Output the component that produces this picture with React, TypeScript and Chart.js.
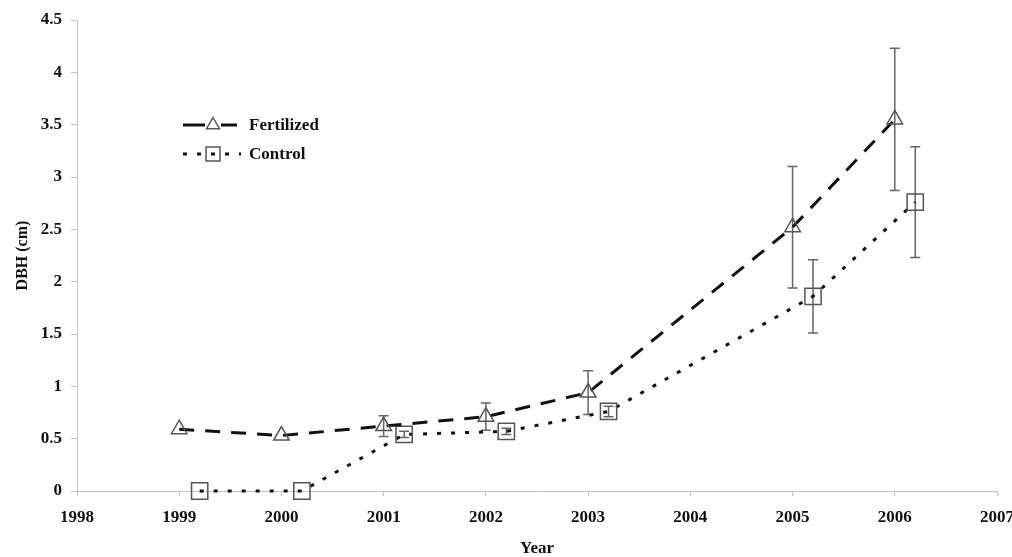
import React, { useEffect, useRef } from "react";
import { Chart, registerables } from "chart.js";

Chart.register(...registerables);

// Measurement years
const fertYears = [1999, 2000, 2001, 2002, 2003, 2005, 2006];
const ctrlYears = [1999.2, 2000.2, 2001.2, 2002.2, 2003.2, 2005.2, 2006.2];

// Mean DBH (cm)
const fertDBH = [0.59, 0.53, 0.62, 0.71, 0.94, 2.52, 3.55];
const ctrlDBH = [0.0, 0.0, 0.54, 0.57, 0.76, 1.86, 2.76];

// Standard error (cm); zero means no bar drawn
const fertErr = [0, 0, 0.1, 0.13, 0.21, 0.58, 0.68];
const ctrlErr = [0, 0, 0.03, 0.03, 0.05, 0.35, 0.53];

const seriesNames = ["Fertilized", "Control"];
const yTicks = [0, 0.5, 1, 1.5, 2, 2.5, 3, 3.5, 4, 4.5];

const SERIF = "'Liberation Serif', 'Times New Roman', serif";

const errorBars = {
  id: "errorBars",
  beforeDatasetsDraw(chart: any) {
    const { ctx, scales } = chart;
    const sets = [
      { xs: fertYears, ys: fertDBH, es: fertErr },
      { xs: ctrlYears, ys: ctrlDBH, es: ctrlErr },
    ];
    ctx.save();
    ctx.strokeStyle = "#666";
    ctx.lineWidth = 1.5;
    for (const s of sets) {
      s.xs.forEach((x, i) => {
        const e = s.es[i];
        if (!e) return;
        const px = scales.x.getPixelForValue(x);
        const top = scales.y.getPixelForValue(s.ys[i] + e);
        const bot = scales.y.getPixelForValue(s.ys[i] - e);
        ctx.beginPath();
        ctx.moveTo(px, top);
        ctx.lineTo(px, bot);
        ctx.moveTo(px - 5, top);
        ctx.lineTo(px + 5, top);
        ctx.moveTo(px - 5, bot);
        ctx.lineTo(px + 5, bot);
        ctx.stroke();
      });
    }
    ctx.restore();
  },
};

const seriesKey = {
  id: "seriesKey",
  afterDraw(chart: any) {
    const { ctx, chartArea } = chart;
    const x0 = chartArea.left + 106;
    const y1 = chartArea.top + 105;
    const y2 = chartArea.top + 134;
    ctx.save();
    // Fertilized sample
    ctx.strokeStyle = "#111";
    ctx.lineWidth = 3;
    ctx.beginPath();
    ctx.moveTo(x0, y1);
    ctx.lineTo(x0 + 22, y1);
    ctx.moveTo(x0 + 38, y1);
    ctx.lineTo(x0 + 54, y1);
    ctx.stroke();
    ctx.strokeStyle = "#555";
    ctx.lineWidth = 1.5;
    const r = 7.5;
    const cx = x0 + 30;
    ctx.beginPath();
    ctx.moveTo(cx, y1 - r);
    ctx.lineTo(cx + r * 0.866, y1 + r * 0.5);
    ctx.lineTo(cx - r * 0.866, y1 + r * 0.5);
    ctx.closePath();
    ctx.stroke();
    // Control sample
    ctx.strokeStyle = "#111";
    ctx.lineWidth = 3;
    ctx.setLineDash([4, 10]);
    ctx.beginPath();
    ctx.moveTo(x0, y2);
    ctx.lineTo(x0 + 58, y2);
    ctx.stroke();
    ctx.setLineDash([]);
    ctx.strokeStyle = "#555";
    ctx.lineWidth = 1.5;
    ctx.strokeRect(cx - 7, y2 - 7, 14, 14);
    // Labels
    ctx.fillStyle = "#111";
    ctx.font = `bold 17px ${SERIF}`;
    ctx.textAlign = "left";
    ctx.textBaseline = "middle";
    ctx.fillText(seriesNames[0], x0 + 66, y1 + 1);
    ctx.fillText(seriesNames[1], x0 + 66, y2 + 1);
    ctx.restore();
  },
};

export default function App() {
  const canvasRef = useRef<HTMLCanvasElement | null>(null);

  useEffect(() => {
    if (!canvasRef.current) return;
    const chart = new Chart(canvasRef.current, {
      type: "line",
      data: {
        datasets: [
          {
            label: seriesNames[0],
            data: fertYears.map((x, i) => ({ x, y: fertDBH[i] })),
            borderColor: "#111",
            borderWidth: 3,
            borderDash: [15, 11],
            tension: 0,
            pointStyle: "triangle",
            pointRadius: 9,
            pointBorderColor: "#555",
            pointBorderWidth: 1.5,
            pointBackgroundColor: "rgba(0,0,0,0)",
            clip: false,
          },
          {
            label: seriesNames[1],
            data: ctrlYears.map((x, i) => ({ x, y: ctrlDBH[i] })),
            borderColor: "#111",
            borderWidth: 3,
            borderDash: [4, 10],
            tension: 0,
            pointStyle: "rect",
            pointRadius: 11.5,
            pointBorderColor: "#555",
            pointBorderWidth: 1.5,
            pointBackgroundColor: "rgba(0,0,0,0)",
            clip: false,
          },
        ],
      },
      options: {
        animation: false,
        responsive: true,
        maintainAspectRatio: false,
        layout: { padding: { top: 20, right: 15, left: 0, bottom: 0 } },
        plugins: {
          legend: { display: false },
          tooltip: { enabled: false },
        },
        scales: {
          x: {
            type: "linear",
            min: 1998,
            max: 2007,
            ticks: {
              stepSize: 1,
              padding: 11,
              color: "#111",
              font: { family: SERIF, size: 17, weight: "bold" },
              callback: (v: any) => String(v),
            },
            grid: {
              drawOnChartArea: false,
              drawTicks: true,
              tickLength: 5,
              color: "#c4c4c4",
            },
            border: { display: true, color: "#c4c4c4", width: 1 },
            title: {
              display: true,
              text: "Year",
              color: "#111",
              font: { family: SERIF, size: 17, weight: "bold", lineHeight: 1 },
              padding: { top: 0, bottom: 0 },
            },
            afterFit: (s: any) => {
              s.height = 66;
              s.paddingLeft = 0;
              s.paddingRight = 0;
            },
          },
          y: {
            type: "linear",
            min: 0,
            max: 4.5,
            afterBuildTicks: (s: any) => {
              s.ticks = yTicks.map((v) => ({ value: v }));
            },
            ticks: {
              padding: 9,
              color: "#111",
              font: { family: SERIF, size: 17, weight: "bold" },
              callback: (v: any) => String(v),
            },
            grid: {
              drawOnChartArea: false,
              drawTicks: true,
              tickLength: 6,
              color: "#c4c4c4",
            },
            border: { display: true, color: "#c4c4c4", width: 1 },
            title: {
              display: true,
              text: "DBH (cm)",
              color: "#111",
              font: { family: SERIF, size: 16, weight: "bold", lineHeight: 1.2 },
              padding: { top: 13, bottom: 0 },
            },
            afterFit: (s: any) => {
              s.width = 77;
              s.paddingTop = 0;
              s.paddingBottom = 0;
            },
          },
        },
      },
      plugins: [errorBars, seriesKey],
    });
    return () => chart.destroy();
  }, []);

  return (
    <div
      style={{
        position: "fixed",
        left: 0,
        top: 0,
        width: 1012,
        height: 557,
        background: "#fff",
      }}
    >
      <canvas ref={canvasRef} />
    </div>
  );
}
